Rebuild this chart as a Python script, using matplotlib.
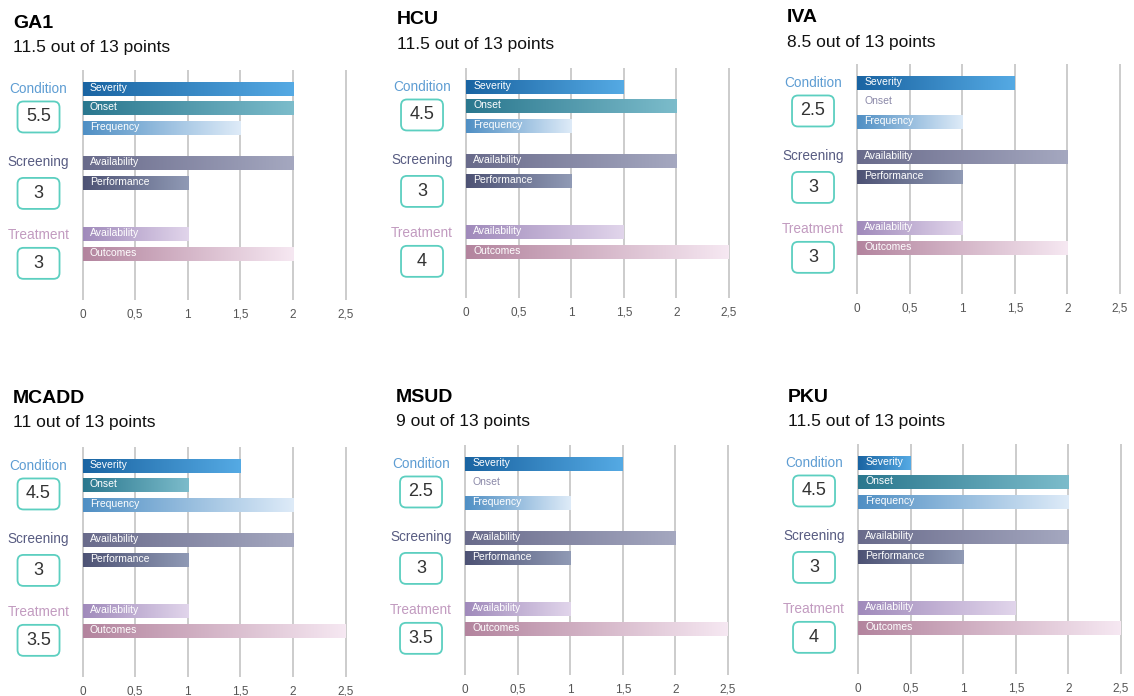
import numpy as np
import matplotlib
matplotlib.use("Agg")
import matplotlib.pyplot as plt
from matplotlib.colors import LinearSegmentedColormap
from matplotlib.patches import FancyBboxPatch
from matplotlib.transforms import IdentityTransform

# data
diseases = ['GA1', 'HCU', 'IVA', 'MCADD', 'MSUD', 'PKU']
totals = [11.5, 11.5, 8.5, 11, 9, 11.5]
condition_scores = ['5.5', '4.5', '2.5', '4.5', '2.5', '4.5']
screening_scores = ['3', '3', '3', '3', '3', '3']
treatment_scores = ['3', '4', '3', '3.5', '3.5', '4']
criteria = ['Severity', 'Onset', 'Frequency', 'Availability', 'Performance',
            'Availability', 'Outcomes']
ga1 = [2, 2, 1.5, 2, 1, 1, 2]
hcu = [1.5, 2, 1, 2, 1, 1.5, 2.5]
iva = [1.5, 0, 1, 2, 1, 1, 2]
mcadd = [1.5, 1, 2, 2, 1, 1, 2.5]
msud = [1.5, 0, 1, 2, 1, 1, 2.5]
pku = [0.5, 2, 2, 2, 1, 1.5, 2.5]
scores = [ga1, hcu, iva, mcadd, msud, pku]
xticks = [0, 0.5, 1, 1.5, 2, 2.5]
xtick_labels = ['0', '0,5', '1', '1,5', '2', '2,5']

# layout (pixels from top-left)
W, H = 1134, 696
x_zero = [82.5, 466, 857, 82.5, 465, 858]
y_first = [89, 87, 83, 466, 464, 463]
title_xy = [(13, 23), (397, 20), (787, 18), (13, 398), (396, 397), (788, 397)]
row_pos = [0, 0.97, 1.98, 3.76, 4.77, 7.36, 8.38]
px_unit_x = 263 / 2.5
px_unit_y = 19.7

grads = [('#1a64a2', '#55aae4'), ('#2a778e', '#7cbccb'), ('#4f8fc4', '#deebf8'),
         ('#696b8b', '#a5a8c0'), ('#4d5274', '#909ab5'), ('#a08abb', '#e1d5eb'),
         ('#b3849e', '#f6e8f2')]
cat_names = ['Condition', 'Screening', 'Treatment']
cat_colors = ['#5e9dd3', '#585c82', '#c29bc0']
cat_label_y = [0, 3.7, 7.4]
cat_box_y = [1.42, 5.3, 8.85]

plt.rcParams['font.family'] = ['Liberation Sans', 'DejaVu Sans']

fig = plt.figure(figsize=(W / 100, H / 100), dpi=100)
fig.patch.set_facecolor('white')

xlo, xhi = -0.03, 2.53
ytop, ybot = -0.95, 10.7

for i, name in enumerate(diseases):
    left = x_zero[i] + xlo * px_unit_x
    width = (xhi - xlo) * px_unit_x
    top = y_first[i] + ytop * px_unit_y
    height = (ybot - ytop) * px_unit_y
    ax = fig.add_axes([left / W, 1 - (top + height) / H, width / W, height / H])
    ax.set_xlim(xlo, xhi)
    ax.set_ylim(ybot, ytop)
    ax.set_xticks(xticks)
    ax.set_xticklabels(xtick_labels, fontsize=8.5, color='#555555', va='baseline')
    ax.tick_params(axis='x', length=0, pad=13)
    ax.set_yticks([])
    for s in ax.spines.values():
        s.set_visible(False)
    ax.xaxis.grid(True, color='#cccccc', lw=1.4)
    ax.set_axisbelow(True)

    vals = scores[i]
    bars = ax.barh(row_pos, vals, height=0.74, color='none', edgecolor='none', zorder=2)
    for j, b in enumerate(bars):
        v = vals[j]
        if v > 0:
            cmap = LinearSegmentedColormap.from_list('g%d' % j, grads[j])
            grad = np.linspace(0, 1, 256).reshape(1, -1)
            im = ax.imshow(grad, cmap=cmap, aspect='auto', zorder=2,
                           extent=(0, v, row_pos[j] + 0.37, row_pos[j] - 0.37))
            im.set_clip_path(b)
            tc = 'white'
        else:
            tc = '#8a88a8'
        ax.text(0.07, row_pos[j] - 0.05, criteria[j], fontsize=7.5, color=tc,
                va='center', ha='left', zorder=3)
    ax.set_xlim(xlo, xhi)
    ax.set_ylim(ybot, ytop)

    # category labels + score boxes
    box_vals = [condition_scores[i], screening_scores[i], treatment_scores[i]]
    for k in range(3):
        ax.text(-0.418, cat_label_y[k], cat_names[k], fontsize=9.8,
                color=cat_colors[k], ha='center', va='center', clip_on=False)
        cx, cy = ax.transData.transform((-0.418, cat_box_y[k]))
        bw, bh = 42, 31
        box = FancyBboxPatch((cx - bw / 2, cy - bh / 2), bw, bh,
                             boxstyle='round,pad=0,rounding_size=6',
                             transform=IdentityTransform(), fc='white',
                             ec='#5ccfc0', lw=1.3, clip_on=False, zorder=3)
        fig.add_artist(box)
        fig.text(cx / W, cy / H, box_vals[k], fontsize=13, color='#333333',
                 ha='center', va='center', zorder=4)

    tx, ty = title_xy[i]
    fig.text(tx / W, 1 - ty / H, name, fontsize=14, fontweight='bold',
             ha='left', va='center', color='black')
    fig.text(tx / W, 1 - (ty + 24.5) / H, '%g out of 13 points' % totals[i],
             fontsize=12.5, ha='left', va='center', color='#111111')

fig.savefig('out.png', dpi=100, facecolor='white')
